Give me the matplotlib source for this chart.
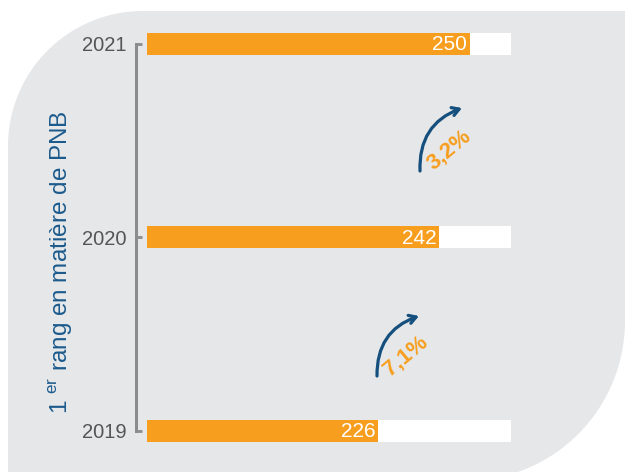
import numpy as np
import matplotlib
matplotlib.use("Agg")
import matplotlib.pyplot as plt
from matplotlib.patches import Polygon

plt.rcParams['font.family'] = ['Liberation Sans', 'DejaVu Sans']
plt.rcParams['mathtext.fontset'] = 'custom'
plt.rcParams['mathtext.rm'] = 'Liberation Sans'

# ---- data ----
years = ["2019", "2020", "2021"]
values = [226, 242, 250]
growth_labels = ["7,1%", "3,2%"]
ylabel = "1 $^{\\rm er}$ rang en matière de PNB"

# ---- layout / style ----
W, H = 625, 472
ORANGE = "#f79e1e"
GRAY_BG = "#e6e7e9"
BLUE = "#1b5a8c"
ARROW_BLUE = "#144f7e"
TXT_GRAY = "#555555"
SPINE_GRAY = "#8c8c8c"
x_min, track_max = 165.7, 260.7

fig = plt.figure(figsize=(W / 100, H / 100), dpi=100)

# background leaf shape (pixel coordinates)
bg = fig.add_axes([0, 0, 1, 1])
bg.set_xlim(0, W)
bg.set_ylim(H, 0)
bg.axis('off')
r1 = 135
cx1, cy1 = 8 + r1, 11 + r1
t1 = np.linspace(np.pi, 1.5 * np.pi, 40)
arc1 = np.column_stack([cx1 + r1 * np.cos(t1), cy1 + r1 * np.sin(t1)])
r2 = 160
cx2, cy2 = 465, 321
tend = np.arcsin((H - cy2) / r2)
t2 = np.linspace(0, tend, 40)
arc2 = np.column_stack([cx2 + r2 * np.cos(t2), cy2 + r2 * np.sin(t2)])
pts = np.vstack([[[8, H]], arc1, [[W, 11]], arc2, [[8, H]]])
bg.add_patch(Polygon(pts, closed=True, facecolor=GRAY_BG, edgecolor='none'))

# main axes
left = 147 / W
width = (511 - 147) / W
ax = fig.add_axes([left, 0.005, width, 0.984])
ax.set_facecolor('none')
ypos = np.arange(len(years))
ax.barh(ypos, [track_max] * len(years), height=0.114, color='white', zorder=1)
ax.barh(ypos, values, height=0.114, color=ORANGE, zorder=2)
ax.set_xlim(x_min, track_max)
ax.set_ylim(-0.2, 2.2)

for y, v in zip(ypos, values):
    ax.annotate(str(v), xy=(v, y), xytext=(-2, -0.5), textcoords='offset points',
                ha='right', va='center', color='white', fontsize=15, zorder=3)

for s in ['top', 'right', 'bottom']:
    ax.spines[s].set_visible(False)
ax.spines['left'].set_position(('outward', 8))
ax.spines['left'].set_bounds(0, 2)
ax.spines['left'].set_color(SPINE_GRAY)
ax.spines['left'].set_linewidth(2.2)
ax.set_xticks([])
ax.set_yticks(ypos)
ax.set_yticklabels(years)
ax.tick_params(axis='y', direction='in', length=4, width=2, color=SPINE_GRAY,
               pad=7, labelsize=14.5, labelcolor=TXT_GRAY)
ax.set_ylabel(ylabel, fontsize=17.5, color=BLUE, labelpad=0)
ax.yaxis.set_label_coords(-0.197, 0.447)

# growth arrows and labels (pixel coordinates on background axes)
arrows = [((377, 376), (419, 316)), ((420, 171), (462, 108))]
label_pos = [(406, 356), (449, 150)]
for (start, end), lab, lp in zip(arrows, growth_labels, label_pos):
    bg.annotate("", xy=end, xytext=start,
                arrowprops=dict(arrowstyle="->,head_length=0.5,head_width=0.3",
                                connectionstyle="arc3,rad=-0.36",
                                color=ARROW_BLUE, lw=2.3, shrinkA=0, shrinkB=0),
                zorder=5)
    bg.text(lp[0], lp[1], lab, rotation=40, ha='center', va='center',
            color=ORANGE, fontsize=16, fontweight='bold', zorder=5,
            rotation_mode='anchor')

fig.savefig("out.png", dpi=100)
